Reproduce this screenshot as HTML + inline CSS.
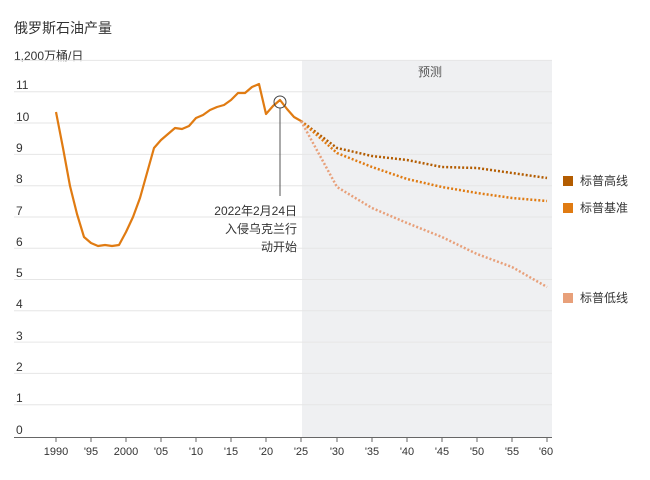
<!DOCTYPE html><html><head><meta charset="utf-8"><style>body{margin:0;background:#fff}svg{font-family:"Liberation Sans","Noto Sans CJK SC",sans-serif}</style></head><body>
<svg width="650" height="475" viewBox="0 0 650 475">
<rect x="302" y="60" width="250" height="378" fill="#eff0f2"/>
<text x="14" y="33" font-size="14" fill="#333">俄罗斯石油产量</text>
<text x="14" y="60" font-size="12" fill="#333">1,200万桶/日</text>
<text x="430" y="76" font-size="12" fill="#555" text-anchor="middle">预测</text>
<g stroke="#e6e6e6" stroke-width="1">
<line x1="14" x2="552" y1="60.4" y2="60.4"/><line x1="14" x2="552" y1="91.7" y2="91.7"/><line x1="14" x2="552" y1="123" y2="123"/><line x1="14" x2="552" y1="154.4" y2="154.4"/><line x1="14" x2="552" y1="185.7" y2="185.7"/><line x1="14" x2="552" y1="217" y2="217"/><line x1="14" x2="552" y1="248.2" y2="248.2"/><line x1="14" x2="552" y1="279.5" y2="279.5"/><line x1="14" x2="552" y1="310.8" y2="310.8"/><line x1="14" x2="552" y1="342.1" y2="342.1"/><line x1="14" x2="552" y1="373.4" y2="373.4"/><line x1="14" x2="552" y1="404.7" y2="404.7"/>
</g>
<g font-size="12" fill="#333">
<text x="16" y="89">11</text><text x="16" y="121">10</text><text x="16" y="152">9</text><text x="16" y="183">8</text><text x="16" y="215">7</text><text x="16" y="246">6</text><text x="16" y="277">5</text><text x="16" y="308">4</text><text x="16" y="340">3</text><text x="16" y="371">2</text><text x="16" y="402">1</text><text x="16" y="434">0</text>
</g>
<line x1="14" x2="552" y1="437.5" y2="437.5" stroke="#666"/>
<g stroke="#666"><line x1="56" x2="56" y1="437" y2="442"/><line x1="91" x2="91" y1="437" y2="442"/><line x1="126" x2="126" y1="437" y2="442"/><line x1="161" x2="161" y1="437" y2="442"/><line x1="196" x2="196" y1="437" y2="442"/><line x1="231" x2="231" y1="437" y2="442"/><line x1="266" x2="266" y1="437" y2="442"/><line x1="301" x2="301" y1="437" y2="442"/><line x1="337" x2="337" y1="437" y2="442"/><line x1="372" x2="372" y1="437" y2="442"/><line x1="407" x2="407" y1="437" y2="442"/><line x1="442" x2="442" y1="437" y2="442"/><line x1="477" x2="477" y1="437" y2="442"/><line x1="512" x2="512" y1="437" y2="442"/><line x1="547" x2="547" y1="437" y2="442"/></g>
<g font-size="11" fill="#333" text-anchor="middle"><text x="56" y="455">1990</text><text x="91" y="455">'95</text><text x="126" y="455">2000</text><text x="161" y="455">'05</text><text x="196" y="455">'10</text><text x="231" y="455">'15</text><text x="266" y="455">'20</text><text x="301" y="455">'25</text><text x="337" y="455">'30</text><text x="372" y="455">'35</text><text x="407" y="455">'40</text><text x="442" y="455">'45</text><text x="477" y="455">'50</text><text x="512" y="455">'55</text><text x="546" y="455">'60</text></g>
<polyline fill="none" stroke="#e07b12" stroke-width="2.2" stroke-linejoin="round" points="56,112 63,148 70,186 77,214 84,237 91,243 98,246 105,245 112,246 119,245 126,232 133,217 140,198 147,173 154,148 161,140 168,134 175,128 182,129 189,126 196,118 203,115 210,110 217,107 224,105 231,100 238,93 245,93 252,87 259,84 266,114 273,106 280,100 287,109 294,117 301,121"/>
<polyline fill="none" stroke="#b35c00" stroke-width="2.5" stroke-dasharray="2,2" points="301,121 337,148 372,156 407,160 442,167 477,168 512,173 547,178"/>
<polyline fill="none" stroke="#e07b12" stroke-width="2.5" stroke-dasharray="2,2" points="301,121 337,153 372,167 407,179 442,187 477,193 512,198 547,201"/>
<polyline fill="none" stroke="#e8a07a" stroke-width="2.5" stroke-dasharray="2,2" points="301,121 337,187 372,208 407,223 442,237 477,254 512,267 547,287"/>
<circle cx="280" cy="102" r="6" fill="none" stroke="#444" stroke-width="1"/>
<line x1="280" x2="280" y1="108" y2="196" stroke="#555"/>
<g font-size="12" fill="#333" text-anchor="end"><text x="297" y="215">2022年2月24日</text><text x="297" y="233">入侵乌克兰行</text><text x="297" y="251">动开始</text></g>
<rect x="563" y="176" width="10" height="10" fill="#b35c00"/><text x="580" y="185" font-size="12" fill="#333">标普高线</text>
<rect x="563" y="203" width="10" height="10" fill="#e07b12"/><text x="580" y="212" font-size="12" fill="#333">标普基准</text>
<rect x="563" y="293" width="10" height="10" fill="#e8a07a"/><text x="580" y="302" font-size="12" fill="#333">标普低线</text>
</svg></body></html>
